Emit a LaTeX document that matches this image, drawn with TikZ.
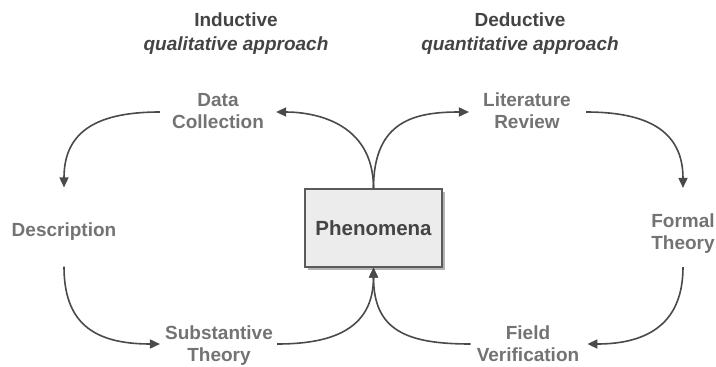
\documentclass[tikz,border=0pt]{standalone}
\usepackage{fontspec}
\setmainfont{Liberation Sans}
\usetikzlibrary{arrows.meta,calc,shadows}

\definecolor{titlegray}{HTML}{444444}
\definecolor{labelgray}{HTML}{737373}
\definecolor{linegray}{HTML}{4A4A4A}
\definecolor{boxfill}{HTML}{ECECEC}
\definecolor{boxline}{HTML}{5A5A5A}
\definecolor{shadowgray}{HTML}{B4B4B4}

\tikzset{
  heading/.style={align=center, inner sep=0pt, text=titlegray,
    font=\fontsize{19}{24}\selectfont\bfseries},
  stage/.style={align=center, inner sep=0pt, text=labelgray,
    font=\fontsize{19}{22}\selectfont\bfseries},
  core/.style={draw=boxline, line width=1.1pt, fill=boxfill,
    minimum width=137pt, minimum height=78pt, inner sep=0pt,
    text=titlegray, font=\fontsize{20.5}{24}\selectfont\bfseries,
    drop shadow={shadow xshift=3pt, shadow yshift=-3pt, fill=shadowgray, opacity=1}},
  flow/.style={draw=linegray, line width=1.6pt,
    -{Triangle[length=10pt,width=9pt]}}
}

\begin{document}
\begin{tikzpicture}[x=1pt,y=-1pt]
  \useasboundingbox (0,0) rectangle (716,367);

  % column headings
  \node[heading] (ind) at (236,34) {Inductive\\\textit{qualitative approach}};
  \node[heading] (ded) at (520,34) {Deductive\\\textit{quantitative approach}};

  % central box
  \node[core] (ph) at (373.5,228) {Phenomena};

  % stages of the two cycles
  \node[stage] (dc) at (218,111) {Data\\Collection};
  \node[stage] (lr) at (527,111) {Literature\\Review};
  \node[stage] (desc) at (64,231.5) {Description};
  \node[stage] (ft) at (683,234) {Formal\\Theory};
  \node[stage] (st) at (219,346) {Substantive\\Theory};
  \node[stage] (fv) at (528,344) {Field\\Verification};

  % inductive cycle
  \draw[flow] (ph.north) .. controls ($(ph.north)+(0,-68)$) and ($(dc.east)+(47,1)$) .. ($(dc.east)+(12,1)$);
  \draw[flow] ($(dc.west)+(-12,1)$) .. controls ($(dc.west)+(-72,1)$) and ($(desc.north)+(0,-93)$) .. ($(desc.north)+(0,-35)$);
  \draw[flow] ($(desc.south)+(0,26)$) .. controls ($(desc.south)+(0,81)$) and ($(st.west)+(-73,-2)$) .. ($(st.west)+(-5,-2)$);
  \draw[flow] ($(st.east)+(4,-2)$) .. controls ($(st.east)+(57,-2)$) and ($(ph.south)+(0,63)$) .. (ph.south);

  % deductive cycle
  \draw[flow] (ph.north) .. controls ($(ph.north)+(0,-68)$) and ($(lr.west)+(-68,1)$) .. ($(lr.west)+(-14,1)$);
  \draw[flow] ($(lr.east)+(15,1)$) .. controls ($(lr.east)+(75,1)$) and ($(ft.north)+(0,-84)$) .. ($(ft.north)+(0,-26)$);
  \draw[flow] ($(ft.south)+(0,13)$) .. controls ($(ft.south)+(0,68)$) and ($(fv.east)+(70,0)$) .. ($(fv.east)+(8,0)$);
  \draw[flow] ($(fv.west)+(-6,0)$) .. controls ($(fv.west)+(-70,0)$) and ($(ph.south)+(0,63)$) .. (ph.south);
\end{tikzpicture}
\end{document}
